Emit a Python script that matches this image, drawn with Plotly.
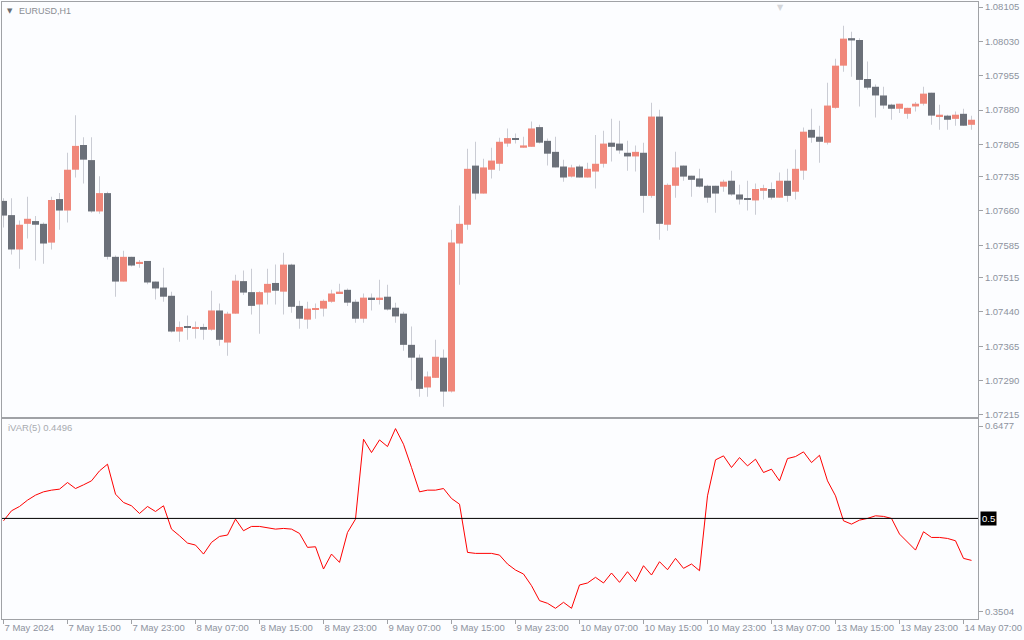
import plotly.graph_objects as go

# ---------------- data ----------------
time_labels = ["7 May 2024", "7 May 15:00", "7 May 23:00", "8 May 07:00", "8 May 15:00",
               "8 May 23:00", "9 May 07:00", "9 May 15:00", "9 May 23:00", "10 May 07:00",
               "10 May 15:00", "10 May 23:00", "13 May 07:00", "13 May 15:00", "13 May 23:00",
               "14 May 07:00"]
time_label_bars = [0, 8, 16, 24, 32, 40, 48, 56, 64, 72, 80, 88, 96, 104, 112, 120]

price_ticks = [1.08105, 1.08030, 1.07955, 1.07880, 1.07805, 1.07735, 1.07660,
               1.07585, 1.07515, 1.07440, 1.07365, 1.07290, 1.07215]
ivar_ticks = [0.6477, 0.3504]
ivar_level = 0.5

opens = [1.07682, 1.07651, 1.07576, 1.07632, 1.07638, 1.07632, 1.07591, 1.07686, 1.07661, 1.07750,
         1.07804, 1.07771, 1.07659, 1.07699, 1.07560, 1.07506, 1.07560, 1.07545, 1.07551, 1.07506,
         1.07493, 1.07475, 1.07397, 1.07407, 1.07403, 1.07407, 1.07401, 1.07443, 1.07373, 1.07436,
         1.07507, 1.07483, 1.07456, 1.07482, 1.07503, 1.07484, 1.07543, 1.07453, 1.07423, 1.07445,
         1.07447, 1.07462, 1.07480, 1.07488, 1.07462, 1.07425, 1.07471, 1.07467, 1.07473, 1.07449,
         1.07436, 1.07368, 1.07340, 1.07275, 1.07296, 1.07340, 1.07266, 1.07589, 1.07630, 1.07759,
         1.07698, 1.07750, 1.07763, 1.07807, 1.07819, 1.07798, 1.07800, 1.07843, 1.07813, 1.07789,
         1.07757, 1.07735, 1.07757, 1.07733, 1.07746, 1.07763, 1.07809, 1.07807, 1.07787, 1.07779,
         1.07787, 1.07693, 1.07866, 1.07630, 1.07715, 1.07759, 1.07737, 1.07731, 1.07715, 1.07715,
         1.07713, 1.07726, 1.07696, 1.07686, 1.07683, 1.07704, 1.07708, 1.07689, 1.07726, 1.07702,
         1.07748, 1.07837, 1.07822, 1.07809, 1.07885, 1.07977, 1.08037, 1.08033, 1.07948, 1.07931,
         1.07912, 1.07892, 1.07883, 1.07872, 1.07888, 1.07894, 1.07918, 1.07866, 1.07868, 1.07861,
         1.07872, 1.07848]
highs = [1.07688, 1.07688, 1.07639, 1.07691, 1.07649, 1.07635, 1.07691, 1.07699, 1.07787, 1.07869,
         1.07821, 1.07821, 1.07736, 1.07702, 1.07563, 1.07573, 1.07560, 1.07553, 1.07551, 1.07506,
         1.07536, 1.07484, 1.07419, 1.07432, 1.07419, 1.07414, 1.07486, 1.07458, 1.07440, 1.07521,
         1.07530, 1.07534, 1.07485, 1.07534, 1.07543, 1.07569, 1.07545, 1.07464, 1.07462, 1.07458,
         1.07467, 1.07488, 1.07501, 1.07491, 1.07467, 1.07480, 1.07480, 1.07510, 1.07499, 1.07460,
         1.07440, 1.07408, 1.07347, 1.07310, 1.07379, 1.07358, 1.07619, 1.07672, 1.07796, 1.07811,
         1.07774, 1.07798, 1.07820, 1.07840, 1.07829, 1.07822, 1.07855, 1.07848, 1.07818, 1.07822,
         1.07772, 1.07761, 1.07761, 1.07765, 1.07826, 1.07835, 1.07861, 1.07857, 1.07813, 1.07803,
         1.07809, 1.07896, 1.07881, 1.07720, 1.07789, 1.07759, 1.07737, 1.07752, 1.07717, 1.07715,
         1.07728, 1.07748, 1.07717, 1.07726, 1.07720, 1.07717, 1.07722, 1.07744, 1.07752, 1.07794,
         1.07842, 1.07883, 1.07846, 1.07940, 1.07992, 1.08064, 1.08051, 1.08037, 1.07986, 1.07936,
         1.07931, 1.07894, 1.07894, 1.07885, 1.07898, 1.07931, 1.07918, 1.07892, 1.07870, 1.07877,
         1.07883, 1.07868]
lows = [1.07624, 1.07565, 1.07534, 1.07600, 1.07552, 1.07545, 1.07576, 1.07619, 1.07635, 1.07733,
        1.07720, 1.07656, 1.07654, 1.07554, 1.07473, 1.07506, 1.07539, 1.07536, 1.07500, 1.07467,
        1.07462, 1.07395, 1.07375, 1.07379, 1.07382, 1.07379, 1.07399, 1.07366, 1.07344, 1.07436,
        1.07477, 1.07434, 1.07392, 1.07456, 1.07456, 1.07434, 1.07438, 1.07403, 1.07403, 1.07425,
        1.07430, 1.07460, 1.07480, 1.07453, 1.07416, 1.07416, 1.07443, 1.07456, 1.07443, 1.07416,
        1.07355, 1.07290, 1.07255, 1.07255, 1.07296, 1.07233, 1.07264, 1.07499, 1.07619, 1.07685,
        1.07698, 1.07731, 1.07748, 1.07800, 1.07807, 1.07798, 1.07800, 1.07807, 1.07759, 1.07755,
        1.07724, 1.07733, 1.07733, 1.07733, 1.07709, 1.07755, 1.07768, 1.07785, 1.07748, 1.07746,
        1.07656, 1.07689, 1.07597, 1.07617, 1.07689, 1.07726, 1.07691, 1.07711, 1.07678, 1.07656,
        1.07702, 1.07693, 1.07674, 1.07661, 1.07652, 1.07685, 1.07685, 1.07689, 1.07680, 1.07685,
        1.07728, 1.07809, 1.07765, 1.07805, 1.07883, 1.07964, 1.07953, 1.07888, 1.07925, 1.07864,
        1.07883, 1.07859, 1.07874, 1.07861, 1.07877, 1.07890, 1.07848, 1.07837, 1.07837, 1.07846,
        1.07846, 1.07837]
closes = [1.07650, 1.07576, 1.07630, 1.07643, 1.07630, 1.07589, 1.07684, 1.07661, 1.07750, 1.07802,
          1.07772, 1.07659, 1.07699, 1.07560, 1.07506, 1.07560, 1.07541, 1.07549, 1.07504, 1.07491,
          1.07473, 1.07397, 1.07407, 1.07406, 1.07407, 1.07401, 1.07443, 1.07379, 1.07436, 1.07508,
          1.07482, 1.07453, 1.07483, 1.07501, 1.07486, 1.07543, 1.07451, 1.07425, 1.07447, 1.07447,
          1.07464, 1.07480, 1.07484, 1.07460, 1.07425, 1.07471, 1.07467, 1.07471, 1.07445, 1.07430,
          1.07368, 1.07340, 1.07272, 1.07299, 1.07342, 1.07266, 1.07591, 1.07632, 1.07752, 1.07698,
          1.07755, 1.07770, 1.07811, 1.07819, 1.07816, 1.07803, 1.07840, 1.07809, 1.07785, 1.07755,
          1.07733, 1.07755, 1.07733, 1.07752, 1.07763, 1.07807, 1.07800, 1.07792, 1.07779, 1.07789,
          1.07693, 1.07866, 1.07632, 1.07717, 1.07755, 1.07735, 1.07728, 1.07713, 1.07689, 1.07698,
          1.07724, 1.07696, 1.07685, 1.07684, 1.07708, 1.07710, 1.07689, 1.07726, 1.07693, 1.07752,
          1.07833, 1.07820, 1.07811, 1.07890, 1.07977, 1.08036, 1.08032, 1.07946, 1.07929, 1.07912,
          1.07890, 1.07883, 1.07894, 1.07885, 1.07894, 1.07916, 1.07868, 1.07870, 1.07859, 1.07870,
          1.07846, 1.07859]

ivar = [0.4962, 0.5122, 0.5191, 0.5292, 0.5372, 0.5425, 0.5452, 0.5468, 0.5574, 0.5478,
        0.5537, 0.5601, 0.5760, 0.5867, 0.5388, 0.5255, 0.5202, 0.5079, 0.5191, 0.5111,
        0.5202, 0.4829, 0.4723, 0.4606, 0.4574, 0.4430, 0.4617, 0.4712, 0.4734, 0.4989,
        0.4803, 0.4872, 0.4872, 0.4845, 0.4829, 0.4840, 0.4829, 0.4760, 0.4537, 0.4547,
        0.4191, 0.4430, 0.4297, 0.4776, 0.4989, 0.6266, 0.6053, 0.6255, 0.6149, 0.6436,
        0.6186, 0.5814, 0.5425, 0.5452, 0.5452, 0.5478, 0.5319, 0.5228, 0.4457, 0.4441,
        0.4441, 0.4441, 0.4414, 0.4271, 0.4175, 0.4111, 0.3925, 0.3686, 0.3643, 0.3563,
        0.3659, 0.3563, 0.3936, 0.3968, 0.4058, 0.3968, 0.4127, 0.3978, 0.4148, 0.3989,
        0.4244, 0.4095, 0.4308, 0.4180, 0.4361, 0.4202, 0.4271, 0.4164, 0.5361, 0.5936,
        0.6000, 0.5814, 0.5973, 0.5840, 0.5947, 0.5734, 0.5787, 0.5601, 0.5957, 0.5989,
        0.6064, 0.5893, 0.6010, 0.5601, 0.5361, 0.4962, 0.4909, 0.4973, 0.5000, 0.5042,
        0.5032, 0.5000, 0.4750, 0.4627, 0.4494, 0.4787, 0.4696, 0.4696, 0.4680, 0.4643,
        0.4361, 0.4329]

symbol_label = "EURUSD,H1"
indicator_label = "iVAR(5) 0.4496"

# ---------------- styles ----------------
UP = "#f0877a"
DOWN = "#6b7079"
WICK = "#caccd4"
FRAME = "#a0a2a6"
TXT = "#8d939e"
BG = "#fcfdff"
FONT = "Liberation Sans"

n = len(opens)
bars = list(range(n))
body_base = [min(o, c) for o, c in zip(opens, closes)]
body_h = [max(abs(c - o), 0.000022) for o, c in zip(opens, closes)]
body_col = [UP if c >= o else DOWN for o, c in zip(opens, closes)]
wick_h = [h - l for h, l in zip(highs, lows)]

fig = go.Figure()
fig.add_trace(go.Bar(x=bars, y=wick_h, base=lows, width=0.125,
                     marker=dict(color=WICK, line=dict(width=0)),
                     xaxis="x", yaxis="y", hoverinfo="skip"))
fig.add_trace(go.Bar(x=bars, y=body_h, base=body_base, width=0.875,
                     marker=dict(color=body_col, line=dict(width=0)),
                     xaxis="x", yaxis="y", hoverinfo="skip"))
fig.add_trace(go.Scatter(x=bars, y=ivar, mode="lines",
                         line=dict(color="#ff0000", width=1),
                         xaxis="x2", yaxis="y2", hoverinfo="skip"))

fig.add_shape(type="line", xref="x2 domain", x0=0, x1=1, yref="y2",
              y0=ivar_level, y1=ivar_level, line=dict(color="#000000", width=1))

xr = [-0.1875, n - 1 + 0.8125]
tfont = dict(family=FONT, size=9.5, color=TXT)

fig.update_layout(
    width=1024, height=640,
    margin=dict(l=2, r=46, t=2, b=21, autoexpand=False),
    paper_bgcolor=BG, plot_bgcolor=BG,
    showlegend=False, barmode="overlay", hovermode=False,
    xaxis=dict(domain=[0, 1], anchor="y", range=xr, showticklabels=False,
               showgrid=False, zeroline=False, showline=True, mirror=True,
               linecolor=FRAME, linewidth=1, ticks="", automargin=False),
    yaxis=dict(domain=[0.3274, 1], anchor="x", range=[1.072106, 1.081159], side="right",
               tickvals=price_ticks, ticktext=[f"{v:.5f}" for v in price_ticks],
               ticks="outside", ticklen=4, tickcolor=FRAME, tickfont=tfont,
               showgrid=False, zeroline=False, showline=True, mirror=True,
               linecolor=FRAME, linewidth=1, automargin=False),
    xaxis2=dict(domain=[0, 1], anchor="y2", matches="x", range=xr,
                tickvals=time_label_bars, ticktext=time_labels,
                ticklabelposition="outside right", tickangle=0,
                ticks="outside", ticklen=4, tickcolor=FRAME, tickfont=tfont,
                showgrid=False, zeroline=False, showline=True, mirror=True,
                linecolor=FRAME, linewidth=1, automargin=False),
    yaxis2=dict(domain=[0, 0.3241], anchor="x2", range=[0.3392, 0.6589], side="right",
                tickvals=ivar_ticks, ticktext=[f"{v:.4f}" for v in ivar_ticks],
                ticks="outside", ticklen=4, tickcolor=FRAME, tickfont=tfont,
                showgrid=False, zeroline=False, showline=True, mirror=True,
                linecolor=FRAME, linewidth=1, automargin=False),
)

fig.add_annotation(xref="paper", yref="paper", x=0, y=1, xanchor="left", yanchor="top",
                   xshift=3, yshift=-3, text="▼", showarrow=False,
                   font=dict(family="DejaVu Sans", size=7, color="#6a6d73"))
fig.add_annotation(xref="paper", yref="paper", x=0, y=1, xanchor="left", yanchor="top",
                   xshift=15, yshift=-2, text=symbol_label, showarrow=False,
                   font=dict(family=FONT, size=9, color="#8a8d93"))
fig.add_annotation(xref="paper", yref="y2 domain", x=0, y=1, xanchor="left", yanchor="top",
                   xshift=4, yshift=-1, text=indicator_label, showarrow=False,
                   font=dict(family=FONT, size=9.5, color="#a8abb0"))
fig.add_annotation(xref="paper", yref="y2", x=1, y=ivar_level, xanchor="left", yanchor="middle",
                   xshift=2, text="0.5", showarrow=False, bgcolor="#000000", borderpad=1,
                   font=dict(family=FONT, size=9.5, color="#ffffff"))
fig.add_annotation(xref="paper", yref="paper", x=0.798, y=1, xanchor="center", yanchor="top",
                   yshift=1, text="▼", showarrow=False,
                   font=dict(family="DejaVu Sans", size=8, color="#d4d6da"))

fig.write_html("out.html", config={"displayModeBar": False},
               post_script="document.body.style.margin='0px';document.body.style.overflow='hidden';")
